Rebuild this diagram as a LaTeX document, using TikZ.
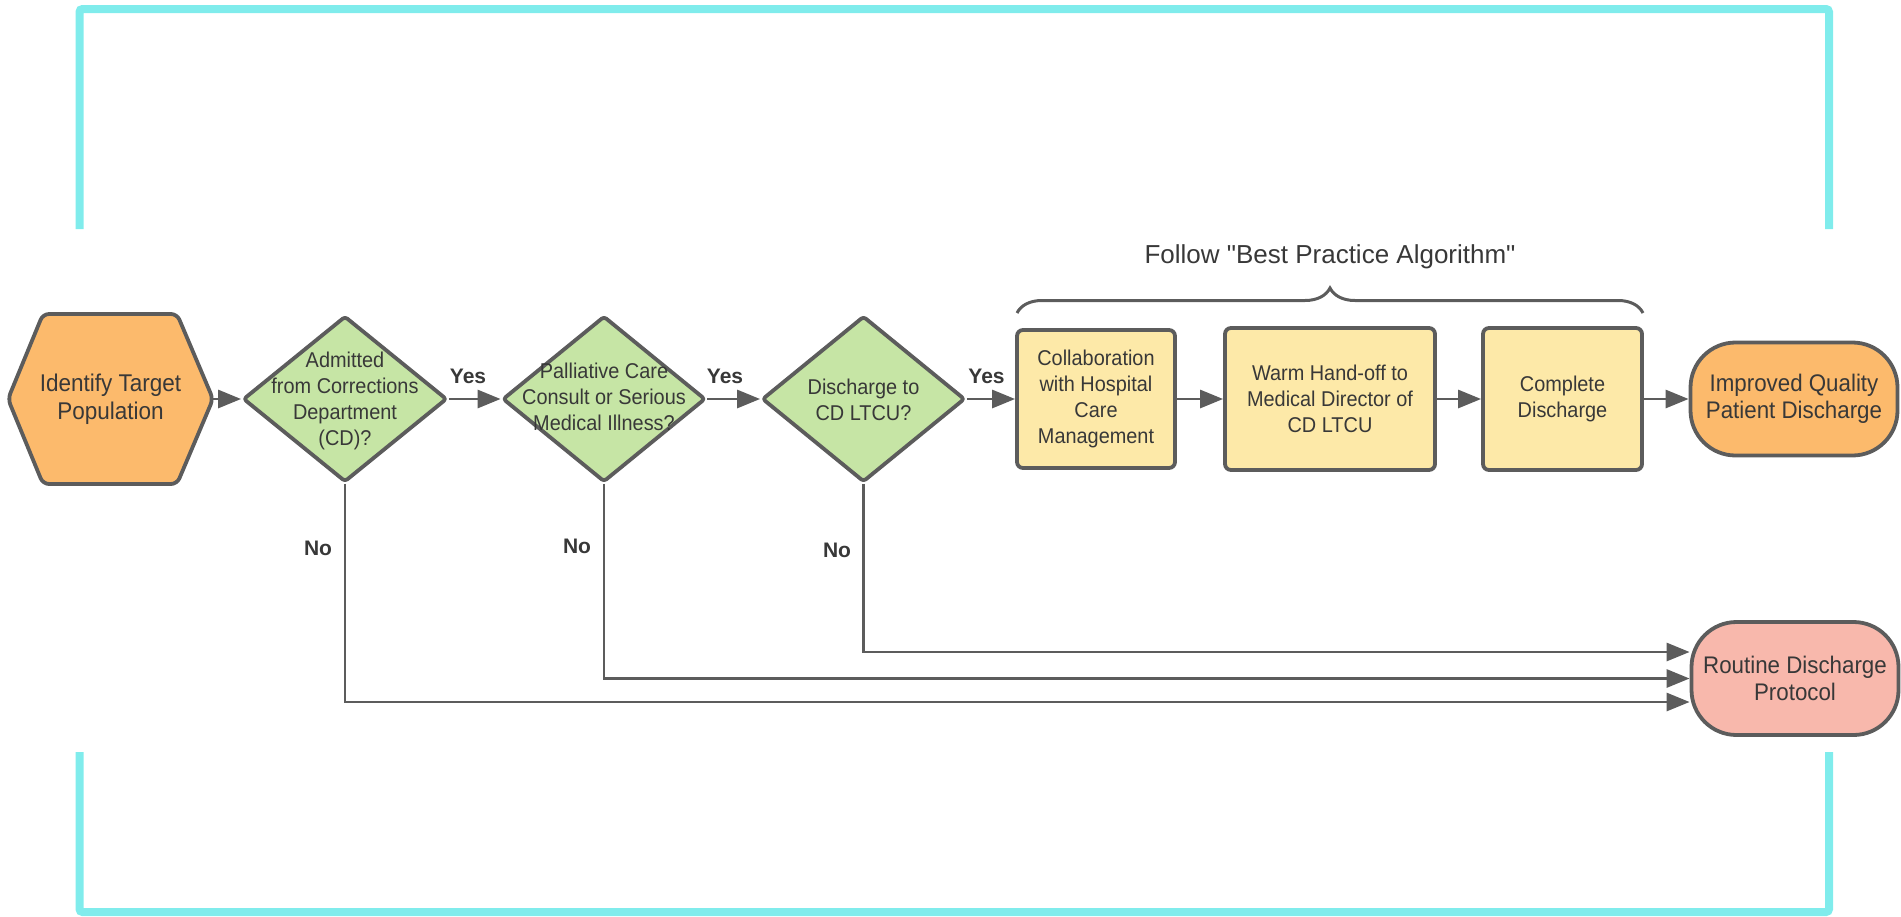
\documentclass[tikz,border=0pt]{standalone}
\usepackage{fontspec}
\setmainfont{Liberation Sans}
\newfontfamily\fA[FakeStretch=0.93]{Liberation Sans}
\newfontfamily\fT[Ligatures=TeXOff]{Liberation Sans}
\usetikzlibrary{shapes.geometric,arrows.meta,decorations.pathreplacing}
\definecolor{framec}{HTML}{80ECEC}
\definecolor{edgec}{HTML}{5C5C5C}
\definecolor{txtc}{HTML}{383838}
\definecolor{orangec}{HTML}{FCBA6C}
\definecolor{greenc}{HTML}{C6E5A5}
\definecolor{yellowc}{HTML}{FDE9A8}
\definecolor{pinkc}{HTML}{F8B8AC}
\begin{document}
\begin{tikzpicture}[x=1pt,y=-1pt,
  stroke/.style={draw=edgec, line width=3.8pt, line join=round},
  dia/.style={shape=diamond, stroke, fill=greenc, minimum width=#1, minimum height=166pt, inner sep=0pt, rounded corners=3pt},
  diatext/.style={text=txtc, align=center, font=\fA\fontsize{21.4}{26}\selectfont, inner sep=0pt},
  rectbox/.style={rectangle, stroke, fill=yellowc, rounded corners=6pt, minimum width=#1, minimum height=140pt, align=center, text=txtc, font=\fA\fontsize{21.4}{25.7}\selectfont, inner sep=0pt},
  stadium/.style={rectangle, stroke, fill=#1, rounded corners=45pt, minimum width=207pt, minimum height=113pt, align=center, text=txtc, font=\fA\fontsize{24}{27}\selectfont, inner sep=0pt},
  arr/.style={draw=edgec, line width=2.9pt, -{Triangle[length=23pt,width=18pt]}},
  lbl/.style={text=txtc, font=\bfseries\fontsize{21}{25}\selectfont, inner sep=0pt},
  framel/.style={draw=framec, line width=8pt, rounded corners=3pt}
]
\useasboundingbox (0,0) rectangle (1901,916);

% frame
\draw[framel] (79.5,229) -- (79.5,9) -- (1829,9) -- (1829,229);
\draw[framel] (79.5,752) -- (79.5,912) -- (1829,912) -- (1829,752);

% hexagon
\draw[stroke, fill=orangec, rounded corners=6pt] (8,399) -- (43,314) -- (177,314) -- (213,399) -- (177,484) -- (43,484) -- cycle;
\node[text=txtc, align=center, font=\fA\fontsize{24.2}{28}\selectfont, minimum width=205pt, minimum height=170pt, inner sep=0pt] (hex) at (110.5,399) {Identify Target\\Population};

% diamonds
\node[dia=204pt] (d1) at (345,399) {};
\node[diatext] (d1t) at (345,401) {Admitted\\from Corrections\\Department\\(CD)?};
\node[dia=203pt] (d2) at (604,399) {};
\node[diatext] (d2t) at (604,397) {Palliative Care\\Consult or Serious\\Medical Illness?};
\node[dia=203pt] (d3) at (863.5,399) {};
\node[diatext] (d3t) at (863.5,400) {Discharge to\\CD LTCU?};

% rects
\node[rectbox=158pt, minimum height=138pt] (r1) at (1096,399) {Collaboration\\with Hospital\\Care\\Management};
\node[rectbox=210pt, minimum height=142pt] (r2) at (1330,399) {Warm Hand-off to\\Medical Director of\\CD LTCU};
\node[rectbox=159pt, minimum height=142pt] (r3) at (1562.5,399) {Complete\\Discharge};

% end nodes
\node[stadium=orangec] (iq) at (1794,399) {Improved Quality\\Patient Discharge};
\node[stadium=pinkc] (rd) at (1795,678.5) {Routine Discharge\\Protocol};

% brace and title
\draw[draw=edgec, line width=3pt, decorate, decoration={brace, amplitude=25pt}] (1017,313) -- (1643,313);
\node[text=txtc, font=\fT\fontsize{26}{30}\selectfont, inner sep=0pt] (title) at (1330,257) {Follow "Best Practice Algorithm"};

% connectors
\draw[arr] (hex.east) -- (d1.west);
\draw[arr] (d1.east) -- (d2.west);
\draw[arr] (d2.east) -- (d3.west);
\draw[arr] (d3.east) -- (r1.west);
\draw[arr] (r1.east) -- (r2.west);
\draw[arr] (r2.east) -- (r3.west);
\draw[arr] (r3.east) -- (iq.west);
\draw[arr] (d3.south) |- ([yshift=26.5pt]rd.west);
\draw[arr] (d2.south) |- (rd.west);
\draw[arr] (d1.south) |- ([yshift=-23.5pt]rd.west);

% labels
\node[lbl] (y1) at (468,376) {Yes};
\node[lbl] (y2) at (725,376) {Yes};
\node[lbl] (y3) at (986.5,376) {Yes};
\node[lbl] (n1) at (318,548) {No};
\node[lbl] (n2) at (577,546) {No};
\node[lbl] (n3) at (837,550) {No};
\end{tikzpicture}
\end{document}
